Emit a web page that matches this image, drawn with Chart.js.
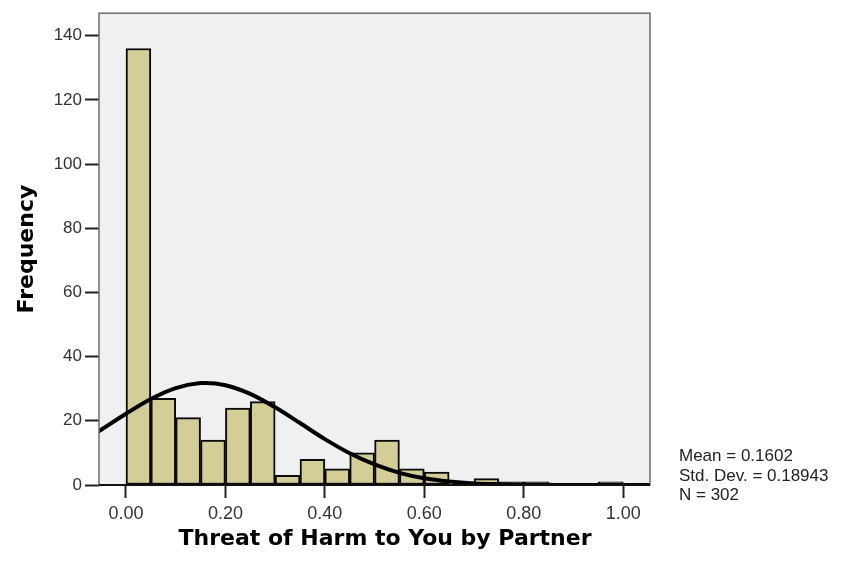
<!DOCTYPE html>
<html>
<head>
<meta charset="utf-8">
<script src="https://cdn.jsdelivr.net/npm/chart.js@4/dist/chart.umd.min.js"></script>
<style>
  html, body { margin: 0; padding: 0; background: #ffffff; }
  #graphe { display: block; }
</style>
</head>
<body>
<canvas id="graphe" width="856" height="568"></canvas>
<script>
// histogram bins (start of each bin) and the counts
var binStarts = [0.00, 0.05, 0.10, 0.15, 0.20, 0.25, 0.30, 0.35, 0.40, 0.45,
                 0.50, 0.55, 0.60, 0.65, 0.70, 0.75, 0.80, 0.85, 0.90, 0.95];
var binCounts = [136, 27, 21, 14, 24, 26, 3, 8, 5, 10,
                 14, 5, 4, 0, 2, 1, 1, 0, 0, 1];
var binWidth = 0.05;

// normal curve
var courbeX = [-0.06, -0.05, 0.00, 0.05, 0.10, 0.15, 0.16, 0.20, 0.25, 0.30, 0.35, 0.40,
               0.45, 0.50, 0.55, 0.60, 0.65, 0.70, 0.75, 0.80, 0.85, 0.90, 0.95, 1.00, 1.06];
var courbeY = [16.2, 17.2, 22.2, 26.8, 30.2, 31.75, 31.8, 31.1, 28.4, 24.2, 19.3, 14.3,
               9.9, 6.4, 3.8, 2.1, 1.1, 0.5, 0.25, 0.1, 0.04, 0, 0, 0, 0];

var xTickValues = [0, 0.2, 0.4, 0.6, 0.8, 1.0];
var xTickLabels = ['0.00', '0.20', '0.40', '0.60', '0.80', '1.00'];
var yTickValues = [0, 20, 40, 60, 80, 100, 120, 140];

var titreX = 'Threat of Harm to You by Partner';
var titreY = 'Frequency';
var statsLignes = ['Mean = 0.1602', 'Std. Dev. = 0.18943', 'N = 302'];

var barres = [];
for (let i = 0; i < binStarts.length; i++) {
    barres.push({x: binStarts[i] + binWidth / 2, y: binCounts[i]});
}
var courbe = [];
for (let i = 0; i < courbeX.length; i++) {
    courbe.push({x: courbeX[i], y: courbeY[i]});
}

var fondPlot = {
    id: 'fondPlot',
    beforeDatasetsDraw: function (chart) {
        var ctx = chart.ctx, a = chart.chartArea;
        ctx.save();
        ctx.fillStyle = '#f0f0f0';
        ctx.fillRect(a.left, a.top, a.right - a.left, a.bottom - a.top);
        ctx.restore();
    },
    afterDraw: function (chart) {
        var ctx = chart.ctx, a = chart.chartArea;
        ctx.save();
        ctx.strokeStyle = '#6e6e6e';
        ctx.lineWidth = 1.5;
        ctx.strokeRect(a.left, a.top, a.right - a.left, a.bottom - a.top);
        ctx.strokeStyle = '#111';
        ctx.lineWidth = 2;
        ctx.beginPath();
        ctx.moveTo(a.left, a.bottom);
        ctx.lineTo(a.right, a.bottom);
        ctx.stroke();

        // x axis title
        ctx.fillStyle = '#000';
        ctx.font = 'bold 22px "DejaVu Sans"';
        ctx.textAlign = 'center';
        ctx.textBaseline = 'alphabetic';
        ctx.fillText(titreX, 385, 545);

        // stats box
        ctx.fillStyle = '#222';
        ctx.font = '17px "Liberation Sans"';
        ctx.textAlign = 'left';
        for (let i = 0; i < statsLignes.length; i++) {
            ctx.fillText(statsLignes[i], 679, 461 + i * 19.5);
        }
        ctx.restore();
    }
};

new Chart(document.getElementById('graphe').getContext('2d'), {
    type: 'bar',
    data: {
        datasets: [{
            type: 'line',
            data: courbe,
            borderColor: '#000',
            borderWidth: 4,
            pointRadius: 0,
            fill: false,
            cubicInterpolationMode: 'monotone',
            order: 0
        }, {
            type: 'bar',
            data: barres,
            backgroundColor: '#d3ce97',
            borderColor: '#0a0a0a',
            borderWidth: 2,
            borderSkipped: false,
            barPercentage: 1,
            categoryPercentage: 1,
            order: 1
        }]
    },
    options: {
        responsive: false,
        animation: false,
        devicePixelRatio: 1,
        layout: {padding: {top: 11, right: 206, bottom: 0, left: 0}},
        plugins: {legend: {display: false}, tooltip: {enabled: false}},
        scales: {
            x: {
                type: 'linear',
                min: -0.0543,
                max: 1.054,
                offset: false,
                grid: {drawOnChartArea: false, drawTicks: true, tickLength: 13, tickColor: '#222', tickWidth: 2, offset: false},
                border: {display: false},
                ticks: {
                    padding: 5,
                    color: '#333',
                    font: {family: 'Liberation Sans', size: 18},
                    callback: function (value, index) { return xTickLabels[index]; }
                },
                afterBuildTicks: function (scale) {
                    scale.ticks = xTickValues.map(function (v) { return {value: v}; });
                },
                afterFit: function (scale) { scale.height = 83; }
            },
            y: {
                type: 'linear',
                min: 0,
                max: 147,
                grid: {drawOnChartArea: false, drawTicks: true, tickLength: 14, tickColor: '#222', tickWidth: 2},
                border: {display: false},
                ticks: {
                    padding: 3,
                    color: '#333',
                    font: {family: 'Liberation Sans', size: 17}
                },
                afterBuildTicks: function (scale) {
                    scale.ticks = yTickValues.map(function (v) { return {value: v}; });
                },
                title: {
                    display: true,
                    text: titreY,
                    color: '#000',
                    font: {family: 'DejaVu Sans', size: 22, weight: 'bold', lineHeight: 1.2},
                    padding: {top: 14, bottom: 0}
                },
                afterFit: function (scale) { scale.width = 99; }
            }
        }
    },
    plugins: [fondPlot]
});
</script>
</body>
</html>
